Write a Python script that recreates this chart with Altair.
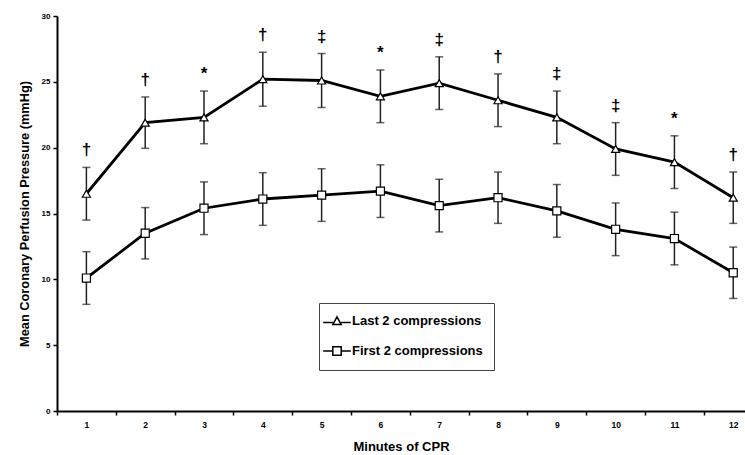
import altair as alt
import pandas as pd

# ---- data ----
minutes = [1, 2, 3, 4, 5, 6, 7, 8, 9, 10, 11, 12]
last_mean = [16.5, 21.9, 22.3, 25.2, 25.1, 23.9, 24.9, 23.6, 22.3, 19.9, 18.9, 16.2]
last_err = [2.0, 1.95, 2.0, 2.05, 2.05, 2.0, 2.0, 2.0, 2.0, 2.0, 2.0, 1.95]
first_mean = [10.1, 13.5, 15.4, 16.1, 16.4, 16.7, 15.6, 16.2, 15.2, 13.8, 13.1, 10.5]
first_err = [2.0, 1.95, 2.0, 2.0, 2.0, 2.0, 2.0, 1.95, 2.0, 2.0, 2.0, 1.95]
sig_marks = ["†", "†", "*", "†", "‡", "*", "‡", "†", "‡", "‡", "*", "†"]
series_names = ["Last 2 compressions", "First 2 compressions"]
y_ticks = [0, 5, 10, 15, 20, 25, 30]

rows = []
for i, m in enumerate(minutes):
    rows.append(dict(minute=m, series=series_names[0], mean=last_mean[i],
                     lo=last_mean[i] - last_err[i], hi=last_mean[i] + last_err[i],
                     sig=sig_marks[i]))
    rows.append(dict(minute=m, series=series_names[1], mean=first_mean[i],
                     lo=first_mean[i] - first_err[i], hi=first_mean[i] + first_err[i],
                     sig=""))
df = pd.DataFrame(rows)

FONT = "Liberation Sans"
PLOT_W = 688
X_DOMAIN = [0.5, 12.2]
half_step = PLOT_W / (X_DOMAIN[1] - X_DOMAIN[0]) / 2

x_enc = alt.X(
    "minute:Q",
    scale=alt.Scale(domain=X_DOMAIN, nice=False, zero=False),
    axis=alt.Axis(
        values=minutes,
        format="d",
        tickOffset=-half_step,
        labelOffset=half_step,
        labelOverlap=False,
        grid=False,
        title="Minutes of CPR",
        titleFont=FONT, titleFontSize=13, titleFontWeight="bold", titleColor="black",
        titlePadding=12,
        labelFont=FONT, labelFontSize=8.5, labelFontWeight="bold", labelColor="black",
        labelPadding=5,
        domainColor="black", domainWidth=2, tickColor="black", tickWidth=1.5, tickSize=4,
    ),
)

y_scale = alt.Scale(domain=[0, 30], nice=False)
y_axis = alt.Axis(
    values=y_ticks, grid=False,
    title="Mean Coronary Perfusion Pressure (mmHg)",
    titleFont=FONT, titleFontSize=12.8, titleFontWeight="bold", titleColor="black",
    titlePadding=10,
    labelFont=FONT, labelFontSize=8, labelFontWeight="bold", labelColor="black",
    labelPadding=3,
    domainColor="black", domainWidth=2, tickColor="black", tickWidth=1.5, tickSize=4,
)

base = alt.Chart(df)

line = base.mark_line(color="black", strokeWidth=2.8).encode(
    x=x_enc, y=alt.Y("mean:Q", scale=y_scale, axis=y_axis), detail="series:N"
)

bars = base.mark_rule(color="#222", strokeWidth=1.5).encode(
    x="minute:Q", y="lo:Q", y2="hi:Q"
)
cap_hi = base.mark_tick(orient="horizontal", color="#222", size=8, thickness=1.5).encode(
    x="minute:Q", y="hi:Q"
)
cap_lo = base.mark_tick(orient="horizontal", color="#222", size=8, thickness=1.5).encode(
    x="minute:Q", y="lo:Q"
)

points = base.mark_point(filled=True, fill="white", stroke="black", strokeWidth=1.2,
                         size=65, opacity=1).encode(
    x="minute:Q", y="mean:Q",
    shape=alt.Shape("series:N", scale=alt.Scale(domain=series_names,
                                                range=["triangle-up", "square"]),
                    legend=None),
)

tri_path = "M-2.3,0.25L-0.7,0.25M0.7,0.25L2.3,0.25M0,-0.7L0.7,0.6L-0.7,0.6Z"
sq_path = "M-2.3,0L-0.7,0M0.7,0L2.3,0M-0.7,-0.7L0.7,-0.7L0.7,0.7L-0.7,0.7Z"

legend_layer = base.mark_point(filled=False, stroke="black", strokeWidth=1.5,
                               opacity=0).encode(
    x="minute:Q", y="mean:Q",
    shape=alt.Shape(
        "series:N",
        scale=alt.Scale(domain=series_names, range=[tri_path, sq_path]),
        legend=alt.Legend(
            orient="none", legendX=262, legendY=287, title=None,
            strokeColor="#444", fillColor="white", padding=11,
            labelFont=FONT, labelFontSize=13, labelFontWeight="bold", labelColor="black",
            symbolSize=144, symbolStrokeWidth=1.5, symbolStrokeColor="black",
            symbolFillColor="white", symbolOpacity=1, labelOffset=8, rowPadding=15,
        ),
    ),
)

text = base.transform_filter("datum.sig != ''").mark_text(
    font=FONT, fontSize=17, fontWeight="bold", baseline="middle", dy=-17, color="black"
).encode(x="minute:Q", y="hi:Q", text="sig:N")

chart = alt.layer(line, bars, cap_hi, cap_lo, points, legend_layer, text).resolve_scale(
    shape="independent"
).properties(
    width=PLOT_W, height=395,
    autosize=alt.AutoSizeParams(type="none"),
    padding={"left": 57, "top": 16, "right": 0, "bottom": 44},
    background="white",
).configure_view(stroke=None)

chart.save("out.html", embed_options={"renderer": "svg", "actions": False})
